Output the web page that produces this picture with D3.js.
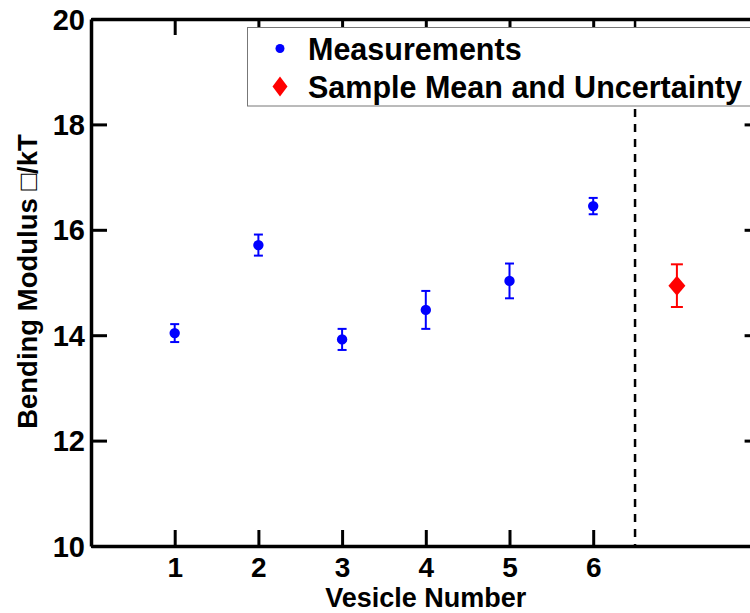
<!DOCTYPE html>
<html>
<head>
<meta charset="utf-8">
<script src="https://cdn.jsdelivr.net/npm/d3@7"></script>
<style>
  html, body { margin: 0; padding: 0; background: #fff; }
  svg { display: block; }
  text { font-family: "Liberation Sans", Arial, Helvetica, sans-serif; font-weight: bold; fill: #000; }
</style>
</head>
<body>
<svg id="chart" width="750" height="613"></svg>
<script>
// ---- data ----
const vesicles = [1, 2, 3, 4, 5, 6];
const modulus = [14.04, 15.71, 13.92, 14.48, 15.03, 16.45];
const modulusErr = [0.17, 0.20, 0.20, 0.36, 0.33, 0.155];
const meanX = [7];
const meanValue = [14.94];
const meanErr = [0.405];
const separatorX = 6.5;
const xTicks = [1, 2, 3, 4, 5, 6];
const yTicks = [10, 12, 14, 16, 18, 20];
const legendLabels = ["Measurements", "Sample Mean and Uncertainty"];
const xLabel = "Vesicle Number";
const yLabel = "Bending Modulus \u25A1/kT";

// ---- layout ----
const svg = d3.select("#chart");
const x = d3.scaleLinear().domain([0, 8]).range([91, 760.6]);
const y = d3.scaleLinear().domain([10, 20]).range([546, 19]);
const tickLen = 16;

const g = svg.append("g");

// dashed separator (behind legend)
g.append("line")
  .attr("x1", x(separatorX)).attr("x2", x(separatorX))
  .attr("y1", y(20)).attr("y2", y(10))
  .attr("stroke", "#000").attr("stroke-width", 2.5)
  .attr("stroke-dasharray", "8,7");

// axes
const axisStroke = 3.5;
const axBottom = g.append("g").attr("transform", `translate(0,${y(10)})`)
  .call(d3.axisBottom(x).tickValues(xTicks).tickSizeInner(-tickLen).tickSizeOuter(0).tickPadding(18).tickFormat(d3.format("d")));
const axTop = g.append("g").attr("transform", `translate(0,${y(20)})`)
  .call(d3.axisTop(x).tickValues(xTicks).tickSizeInner(-tickLen).tickSizeOuter(0).tickFormat(""));
const axLeft = g.append("g").attr("transform", `translate(${x(0)},0)`)
  .call(d3.axisLeft(y).tickValues(yTicks).tickSizeInner(-tickLen).tickSizeOuter(0).tickPadding(6).tickFormat(d3.format("d")));
const axRight = g.append("g").attr("transform", `translate(${x(8)},0)`)
  .call(d3.axisRight(y).tickValues(yTicks).tickSizeInner(-tickLen).tickSizeOuter(0).tickFormat(""));

[axBottom, axTop, axLeft, axRight].forEach(a => {
  a.select(".domain").attr("stroke", "#000").attr("stroke-width", axisStroke);
  a.selectAll(".tick line").attr("stroke", "#000").attr("stroke-width", 3);
  a.selectAll("text").attr("fill", "#000").style("font-size", "29px");
});
axBottom.selectAll(".tick text").style("font-size", "28px").attr("dy", "0").attr("y", 30.5);
axLeft.selectAll(".tick text").attr("x", -6).attr("dy", "0.35em");

// axis labels
svg.append("text")
  .attr("x", (x(0) + x(8)) / 2).attr("y", 607.2)
  .attr("text-anchor", "middle").style("font-size", "27px")
  .text(xLabel);
svg.append("text")
  .attr("transform", `translate(37,${(y(10) + y(20)) / 2 - 1}) rotate(-90)`)
  .attr("text-anchor", "middle").style("font-size", "27.5px")
  .text(yLabel);

// measurements with error bars
const blue = "#0000ff";
const pts = vesicles.map((v, i) => ({ x: v, y: modulus[i], e: modulusErr[i] }));
const eb = g.append("g").attr("stroke", blue).attr("stroke-width", 2);
pts.forEach(p => {
  eb.append("line").attr("x1", x(p.x)).attr("x2", x(p.x)).attr("y1", y(p.y - p.e)).attr("y2", y(p.y + p.e));
  [p.y - p.e, p.y + p.e].forEach(v =>
    eb.append("line").attr("x1", x(p.x) - 4.5).attr("x2", x(p.x) + 4.5).attr("y1", y(v)).attr("y2", y(v)));
});
g.append("g").selectAll("circle").data(pts).join("circle")
  .attr("cx", d => x(d.x)).attr("cy", d => y(d.y)).attr("r", 5.2).attr("fill", blue);

// sample mean
const red = "#ff0000";
const mpts = meanX.map((v, i) => ({ x: v, y: meanValue[i], e: meanErr[i] }));
const mb = g.append("g").attr("stroke", red).attr("stroke-width", 2);
mpts.forEach(p => {
  mb.append("line").attr("x1", x(p.x)).attr("x2", x(p.x)).attr("y1", y(p.y - p.e)).attr("y2", y(p.y + p.e));
  [p.y - p.e, p.y + p.e].forEach(v =>
    mb.append("line").attr("x1", x(p.x) - 6).attr("x2", x(p.x) + 6).attr("y1", y(v)).attr("y2", y(v)));
});
const diamond = (cx, cy, w, h) => `M${cx},${cy - h}L${cx + w},${cy}L${cx},${cy + h}L${cx - w},${cy}Z`;
g.append("g").selectAll("path").data(mpts).join("path")
  .attr("d", d => diamond(x(d.x), y(d.y), 8.5, 10)).attr("fill", red);

// legend
const lg = svg.append("g");
lg.append("rect").attr("x", 247.5).attr("y", 27.5).attr("width", 520).attr("height", 78.5)
  .attr("fill", "#fff").attr("stroke", "#777").attr("stroke-width", 1);
lg.append("circle").attr("cx", 280).attr("cy", 48.5).attr("r", 4.5).attr("fill", blue);
lg.append("path").attr("d", diamond(280, 86.5, 7.5, 10)).attr("fill", red);
lg.selectAll("text.leg").data(legendLabels).join("text").attr("class", "leg")
  .attr("x", 308).attr("y", (d, i) => 59.5 + i * 38)
  .style("font-size", "30.5px").text(d => d);
</script>
</body>
</html>
